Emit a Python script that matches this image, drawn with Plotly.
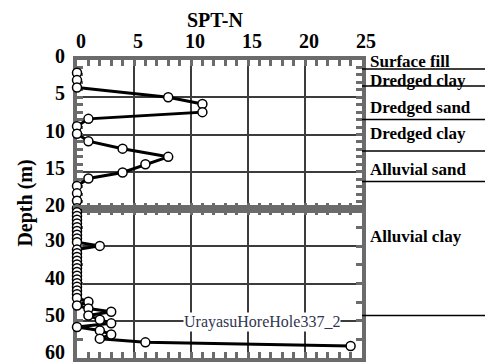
import numpy as np
import plotly.graph_objects as go

# ---- data ----
depth_m = [1.7, 2.7, 3.7, 5.0, 5.9, 7.0, 7.9, 8.9, 9.9, 10.9, 11.9, 13.0, 14.0, 15.1, 15.9, 16.9,
           17.9, 18.9, 19.9, 20.9, 21.9, 22.9, 23.9, 24.9, 25.9, 26.9, 27.9, 28.9, 29.9,
           30.9, 31.9, 32.9, 33.9, 34.9, 35.9, 36.9, 37.9, 38.9, 39.9, 40.9, 41.9, 42.9, 43.9,
           44.9, 45.9, 46.7, 47.6, 48.6, 49.7, 50.7, 51.7, 52.6, 53.7, 54.8, 55.8, 56.8]
spt_n = [0, 0, 0, 8, 11, 11, 1, 0, 0, 1, 4, 8, 6, 4, 1, 0,
         0, 0, 0, 0, 0, 0, 0, 0, 0, 0, 0, 0, 2,
         0, 0, 0, 0, 0, 0, 0, 0, 0, 0, 0, 0, 0, 0,
         1, 0, 1, 3, 1, 2, 3, 0, 2, 3, 2, 6, 24]

layer_names = ["Surface fill", "Dredged clay", "Dredged sand", "Dredged clay", "Alluvial sand", "Alluvial clay"]
layer_label_depth = [0.25, 2.7, 6.4, 9.9, 14.7, 27.5]
layer_boundaries = [1.2, 3.5, 8.0, 12.2, 16.3, 48.6]
hole_name = "UrayasuHoreHole337_2"
x_ticks_top = [0, 5, 10, 15, 20, 25]

d = np.array(depth_m)
n = np.array(spt_n)
top = d <= 20
bot = d >= 20

FONT = "Liberation Serif"
GRAY = "#6b6b6b"
GRID = "#3c3c3c"

fig = go.Figure()
common = dict(mode="lines+markers", line=dict(color="black", width=3),
              marker=dict(symbol="circle", size=9, color="white", line=dict(color="black", width=1.5)),
              cliponaxis=False, showlegend=False, hoverinfo="skip")
fig.add_trace(go.Scatter(x=n[top], y=d[top], xaxis="x", yaxis="y", **common))
fig.add_trace(go.Scatter(x=n[bot], y=d[bot], xaxis="x2", yaxis="y2", **common))

axis_common = dict(showline=True, linewidth=4, linecolor=GRAY, mirror="allticks",
                   ticks="inside", ticklen=6, tickwidth=2.5, tickcolor=GRAY,
                   showgrid=True, gridcolor=GRID, gridwidth=1.5, zeroline=False,
                   layer="below traces", automargin=False, ticklabeloverflow="allow",
                   tickfont=dict(family=FONT, size=20, color="black", weight="bold"))
minor_common = dict(ticks="inside", ticklen=6, tickwidth=2.5, tickcolor=GRAY, showgrid=False)

fig.update_layout(
    template="none",
    font=dict(family=FONT, color="black"),
    width=485, height=362,
    margin=dict(l=77, r=123, t=60, b=4, autoexpand=False),
    paper_bgcolor="white", plot_bgcolor="white",
    xaxis=dict(anchor="y", domain=[0, 1], range=[0, 25], side="top", tickvals=x_ticks_top,
               ticklabelshift=4, ticklabelstandoff=0,
               minor=dict(dtick=1, **minor_common), **axis_common),
    yaxis=dict(anchor="x", domain=[0.5, 1], range=[20, 0], tick0=0, dtick=5,
               ticklabelshift=4, ticklabelstandoff=4,
               minor=dict(dtick=1, **minor_common), **axis_common),
    xaxis2=dict(anchor="y2", domain=[0, 1], range=[0, 25], tick0=0, dtick=5, showticklabels=False,
                minor=dict(dtick=1, **minor_common), **axis_common),
    yaxis2=dict(anchor="x2", domain=[0, 0.5], range=[60, 20], tickvals=[30, 40, 50, 60],
                ticklabelshift=6, ticklabelstandoff=4,
                minor=dict(tickvals=[25, 35, 45, 55], **minor_common), **axis_common),
)

# Title and axis label
fig.add_annotation(text="SPT-N", xref="paper", yref="paper", x=0.486, y=1.134,
                   xanchor="center", yanchor="middle",
                   showarrow=False, font=dict(family=FONT, size=20, color="black", weight="bold"))
fig.add_annotation(text="Depth (m)", xref="paper", yref="paper", x=-0.184, y=0.52,
                   xanchor="center", yanchor="middle",
                   textangle=-90, showarrow=False, font=dict(family=FONT, size=20, color="black", weight="bold"))

# Layer labels and boundaries
for name, dep in zip(layer_names, layer_label_depth):
    yr = "y" if dep <= 20 else "y2"
    fig.add_annotation(text=name, xref="paper", yref=yr, x=1.021, y=dep,
                       xanchor="left", yanchor="middle", showarrow=False,
                       font=dict(family=FONT, size=17, color="black", weight="bold"))
for bd in layer_boundaries:
    yr = "y" if bd <= 20 else "y2"
    fig.add_shape(type="line", xref="paper", yref=yr, x0=1.0, x1=1.45, y0=bd, y1=bd,
                  line=dict(color="black", width=1.5))

fig.add_annotation(text=hole_name, xref="x2", yref="y2", x=16.2, y=50.4, showarrow=False,
                   xanchor="center", yanchor="middle",
                   bgcolor="white", borderpad=0, font=dict(family=FONT, size=16, color="#2f3550"))

fig.write_html("out.html", config={"displayModeBar": False},
               post_script="document.body.style.margin='0';document.body.style.overflow='hidden';")
